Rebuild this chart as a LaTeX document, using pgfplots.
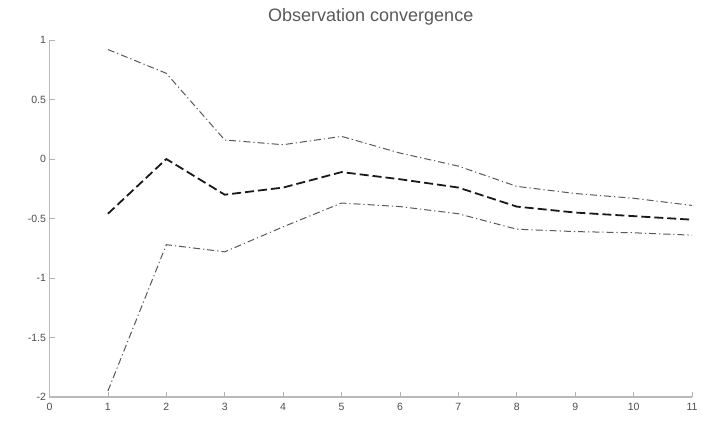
\documentclass[border=0pt]{standalone}
\usepackage{fontspec}
\setmainfont{Liberation Sans}
\usepackage{pgfplots}
\pgfplotsset{compat=1.18}
\begin{document}
\begin{tikzpicture}
\path[use as bounding box] (-49.5pt,-24pt) rectangle (652.5pt,397pt);
\begin{axis}[
  anchor=south west, at={(0pt,0pt)},
  scale only axis, width=642.5pt, height=357pt,
  xmin=0, xmax=11, ymin=-2, ymax=1,
  axis x line*=bottom, axis y line*=left,
  axis line style={gray!55, line width=1.2pt, -},
  xtick={0,...,11}, ytick={-2,-1.5,...,1},
  yticklabels={-2,-1.5,-1,-0.5,0,0.5,1},
  tick style={gray!60, line width=0.8pt},
  tick align=inside, major tick length=5pt,
  tick label style={font=\fontsize{10.5}{12}\selectfont, text=black!70},
  xticklabel style={yshift=-3pt},
  /pgf/number format/assume math mode=true,
  title={Observation convergence},
  title style={font=\fontsize{18}{20}\selectfont, text=black!65, yshift=5pt},
]
\addplot[black!65, line width=1pt, dash pattern=on 7pt off 3pt on 1.2pt off 3pt] coordinates {
(1,0.92) (2,0.72) (3,0.16) (4,0.12) (5,0.19) (6,0.05) (7,-0.06) (8,-0.23) (9,-0.29) (10,-0.33) (11,-0.39)
};
\addplot[black!90, line width=1.8pt, dash pattern=on 9pt off 4pt] coordinates {
(1,-0.46) (2,0.0) (3,-0.30) (4,-0.24) (5,-0.11) (6,-0.17) (7,-0.24) (8,-0.40) (9,-0.45) (10,-0.48) (11,-0.51)
};
\addplot[black!65, line width=1pt, dash pattern=on 7pt off 3pt on 1.2pt off 3pt] coordinates {
(1,-1.95) (2,-0.72) (3,-0.78) (4,-0.57) (5,-0.37) (6,-0.40) (7,-0.46) (8,-0.59) (9,-0.61) (10,-0.62) (11,-0.64)
};
\end{axis}
\end{tikzpicture}
\end{document}
